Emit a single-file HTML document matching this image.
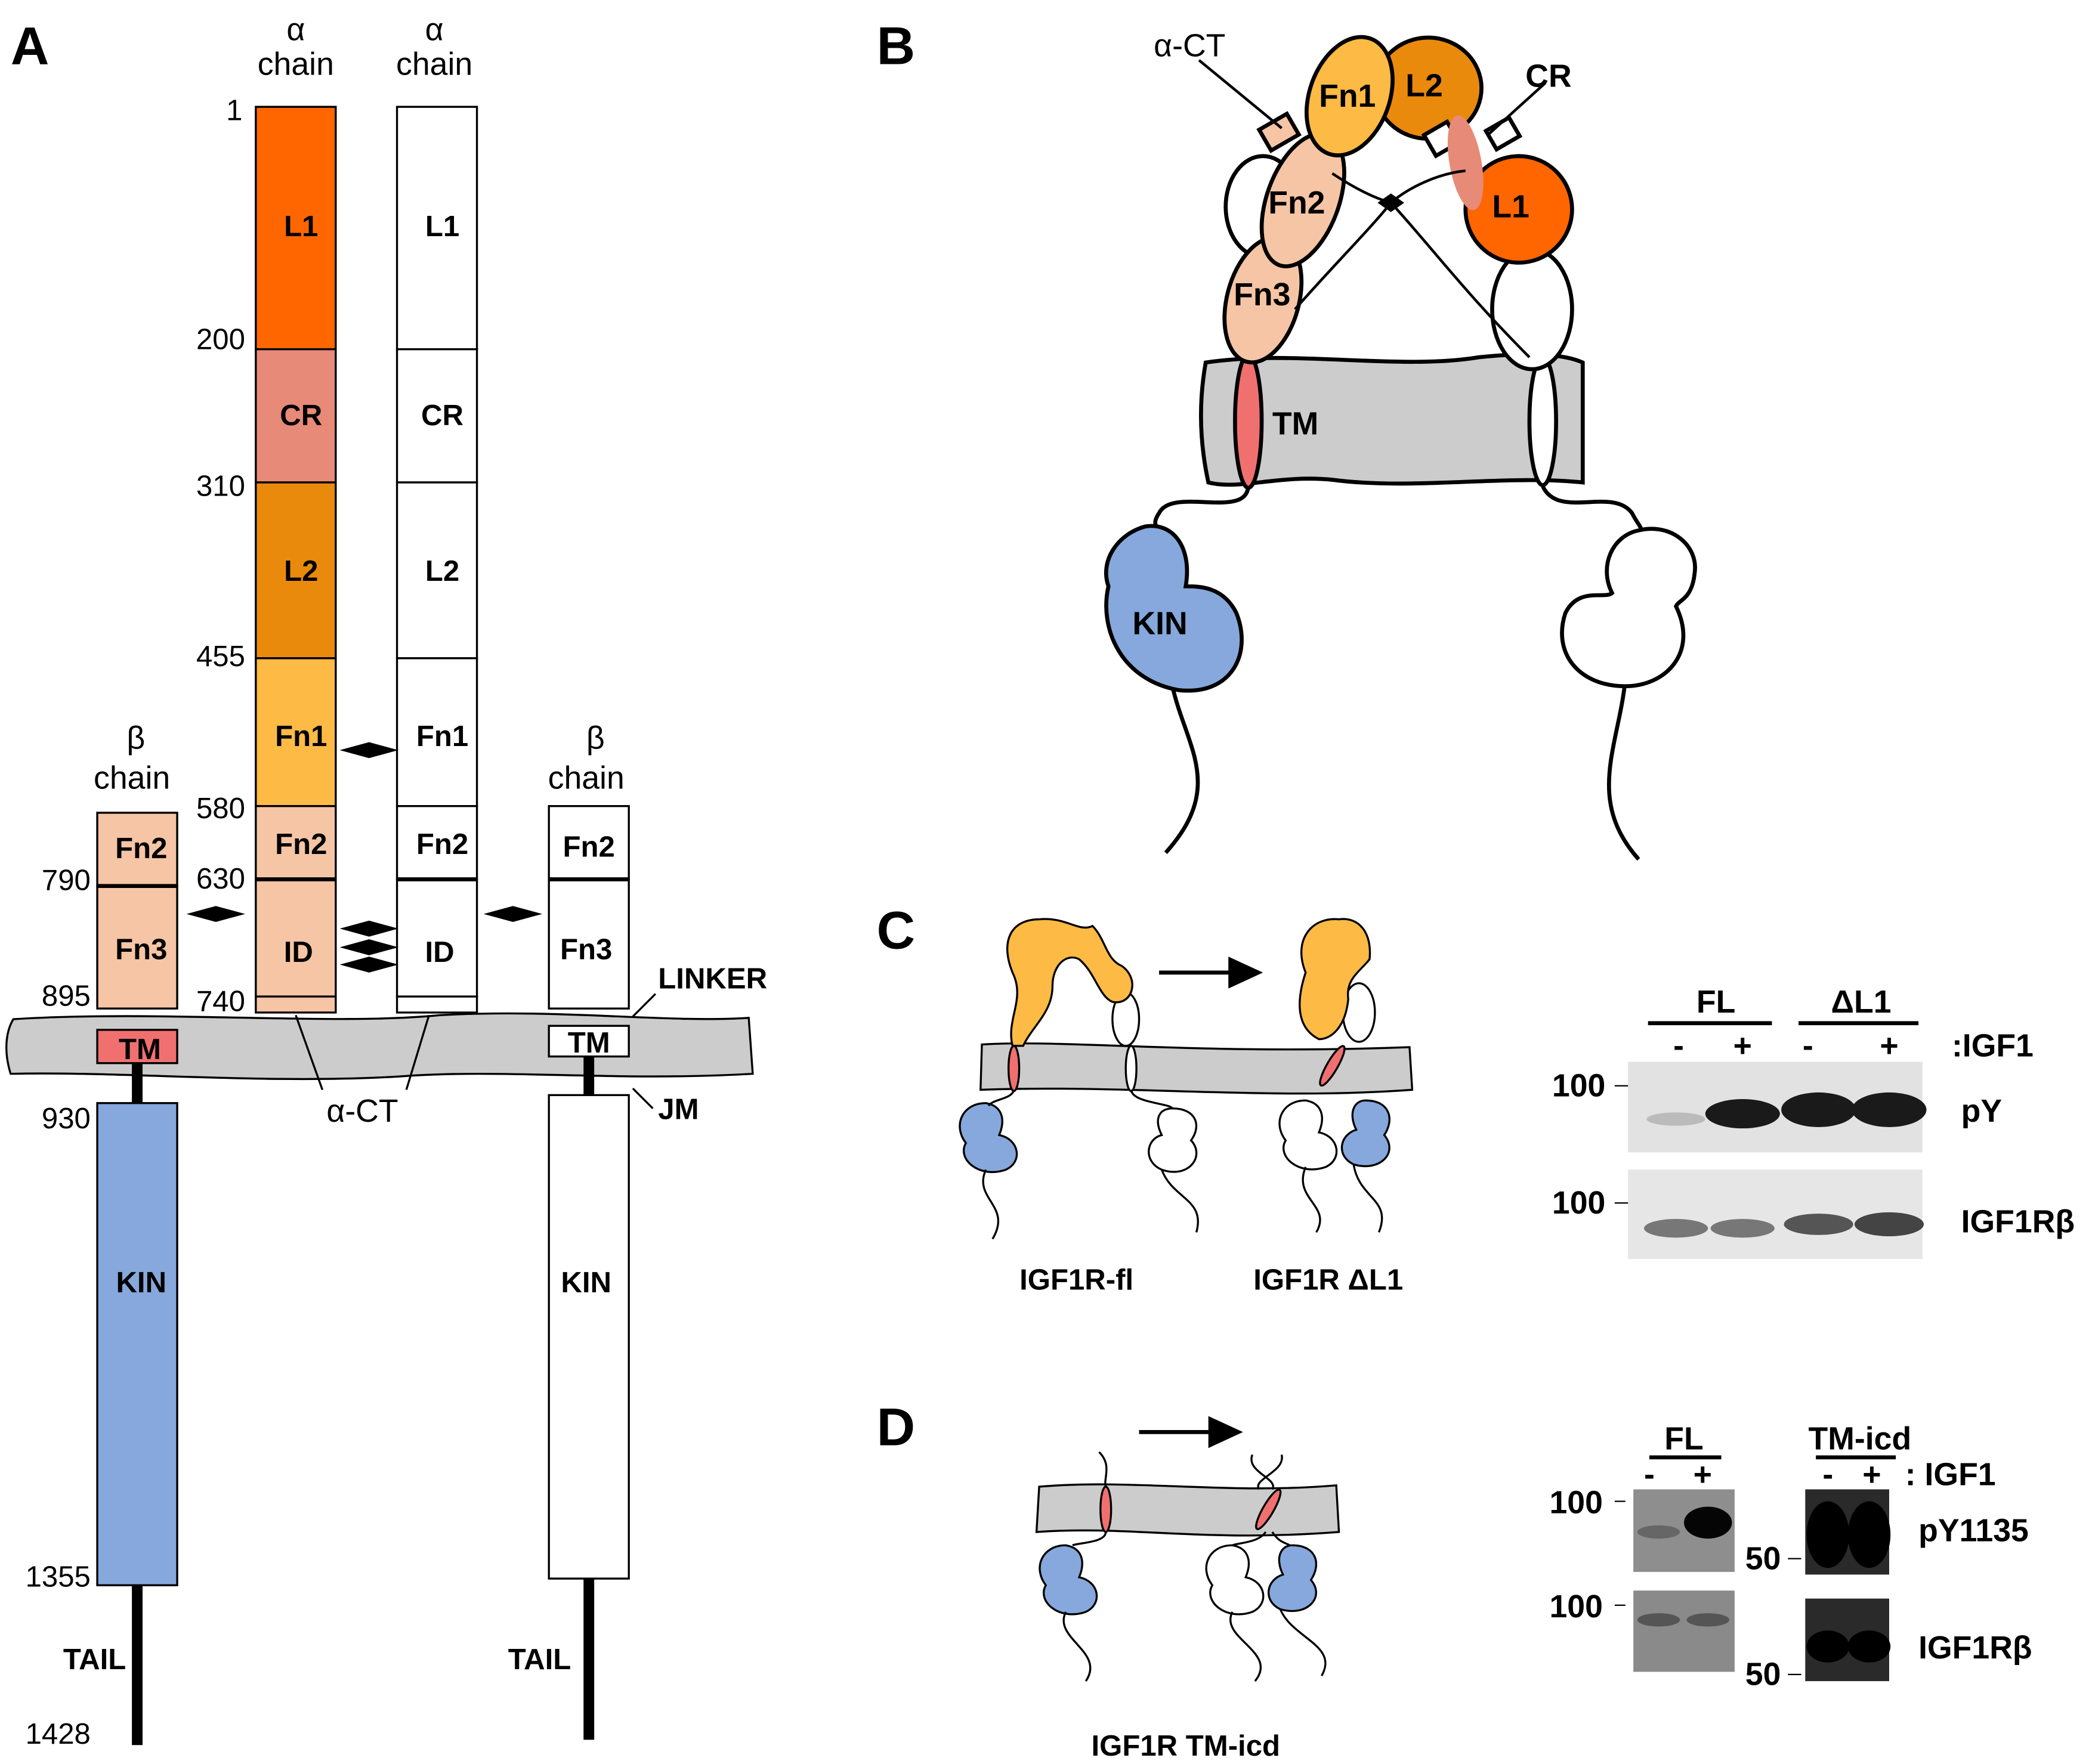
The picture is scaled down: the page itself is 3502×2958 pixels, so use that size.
<!DOCTYPE html>
<html><head><meta charset="utf-8"><style>
html,body{margin:0;padding:0;background:#fff}
svg{display:block}
text{font-family:"Liberation Sans",sans-serif}
.b{font-weight:bold}
</style></head><body>
<svg width="3502" height="2958" viewBox="0 0 1568 1324" xmlns="http://www.w3.org/2000/svg">
<rect width="1568" height="1324" fill="#fff"/>
<defs>
<path id="dm" d="M-22,0 L0,-6 L22,0 L0,6 Z" fill="#000"/>
</defs>
<!-- PANEL A -->
<text x="8" y="48" font-size="40" class="b">A</text>
<g font-size="24" text-anchor="middle">
<text x="222" y="30">α</text><text x="222" y="56">chain</text>
<text x="326" y="30">α</text><text x="326" y="56">chain</text>
<text x="102" y="562">β</text><text x="99" y="592">chain</text>
<text x="447" y="562">β</text><text x="440" y="592">chain</text>
</g>
<!-- membrane -->
<path d="M10,765 C120,758 250,770 330,762 C420,757 500,768 562,764 L565,806 C460,812 380,802 300,808 C200,814 90,804 8,806 C3,790 4,775 10,765Z" fill="#ccc" stroke="#000" stroke-width="1.5"/>
<g stroke="#000" stroke-width="1.5">
<rect x="192" y="80" width="60" height="182" fill="#FF6600"/>
<rect x="192" y="262" width="60" height="100" fill="#E88A78"/>
<rect x="192" y="362" width="60" height="132" fill="#EA8A0C"/>
<rect x="192" y="494" width="60" height="111" fill="#FDBA45"/>
<rect x="192" y="605" width="60" height="55" fill="#F5C5A5"/>
<rect x="192" y="660" width="60" height="88" fill="#F5C5A5"/>
<rect x="192" y="748" width="60" height="12" fill="#F5C5A5"/>
<rect x="298" y="80" width="60" height="182" fill="#fff"/>
<rect x="298" y="262" width="60" height="100" fill="#fff"/>
<rect x="298" y="362" width="60" height="132" fill="#fff"/>
<rect x="298" y="494" width="60" height="111" fill="#fff"/>
<rect x="298" y="605" width="60" height="55" fill="#fff"/>
<rect x="298" y="660" width="60" height="88" fill="#fff"/>
<rect x="298" y="748" width="60" height="12" fill="#fff"/>
<rect x="73" y="610" width="60" height="55" fill="#F5C5A5"/>
<rect x="73" y="665" width="60" height="92" fill="#F5C5A5"/>
<rect x="73" y="773" width="60" height="25" fill="#F07070"/>
<rect x="73" y="828" width="60" height="362" fill="#86A8DC"/>
<rect x="412" y="605" width="60" height="55" fill="#fff"/>
<rect x="412" y="660" width="60" height="97" fill="#fff"/>
<rect x="412" y="770" width="60" height="23" fill="#fff"/>
<rect x="412" y="822" width="60" height="363" fill="#fff"/>
</g>
<g stroke="#000" stroke-width="3"><line x1="192" y1="660" x2="252" y2="660"/><line x1="298" y1="660" x2="358" y2="660"/><line x1="73" y1="665" x2="133" y2="665"/><line x1="412" y1="660" x2="472" y2="660"/></g>
<g stroke="#000" stroke-width="8">
<line x1="103" y1="798" x2="103" y2="828"/><line x1="103" y1="1190" x2="103" y2="1310"/>
<line x1="442" y1="793" x2="442" y2="822"/><line x1="442" y1="1185" x2="442" y2="1306"/>
</g>
<g font-size="22" class="b" text-anchor="middle">
<text x="226" y="177">L1</text><text x="226" y="319">CR</text><text x="226" y="436">L2</text><text x="226" y="560">Fn1</text><text x="226" y="641">Fn2</text><text x="224" y="722">ID</text>
<text x="332" y="177">L1</text><text x="332" y="319">CR</text><text x="332" y="436">L2</text><text x="332" y="560">Fn1</text><text x="332" y="641">Fn2</text><text x="330" y="722">ID</text>
<text x="106" y="644">Fn2</text><text x="106" y="720">Fn3</text><text x="105" y="795">TM</text><text x="106" y="970">KIN</text>
<text x="442" y="643">Fn2</text><text x="440" y="720">Fn3</text><text x="442" y="790">TM</text><text x="440" y="970">KIN</text>
<text x="71" y="1253">TAIL</text><text x="405" y="1253">TAIL</text>
</g>
<g font-size="22" text-anchor="end">
<text x="182" y="90">1</text><text x="184" y="262">200</text><text x="184" y="372">310</text><text x="184" y="500">455</text><text x="184" y="614">580</text><text x="184" y="667">630</text><text x="184" y="759">740</text>
<text x="68" y="668">790</text><text x="68" y="755">895</text><text x="68" y="847">930</text><text x="68" y="1191">1355</text><text x="68" y="1309">1428</text>
</g>
<use href="#dm" x="277" y="563"/><use href="#dm" x="162" y="686"/><use href="#dm" x="385" y="686"/>
<use href="#dm" x="277" y="697"/><use href="#dm" x="277" y="711"/><use href="#dm" x="277" y="724"/>
<g stroke="#000" stroke-width="1.5"><line x1="222" y1="762" x2="242" y2="818"/><line x1="322" y1="762" x2="305" y2="818"/><line x1="475" y1="763" x2="492" y2="746"/><line x1="475" y1="817" x2="490" y2="832"/></g>
<text x="272" y="842" font-size="24" text-anchor="middle">α-CT</text>
<text x="494" y="742" font-size="22" class="b">LINKER</text>
<text x="494" y="840" font-size="22" class="b">JM</text>

<!-- PANEL B -->
<text x="658" y="48" font-size="40" class="b">B</text>
<g stroke="#000" stroke-width="3" fill="none">
<path d="M937,365 C935,390 880,365 870,385 C860,400 880,395 870,400"/>
<path d="M880,515 C890,560 920,590 875,640"/>
<path d="M1158,365 C1170,390 1210,365 1225,385 C1230,395 1235,398 1230,400"/>
<path d="M1220,510 C1215,560 1190,600 1230,645"/>
</g>
<path d="M905,272 C970,262 1050,278 1110,268 C1150,264 1175,266 1188,272 L1188,362 C1130,356 1060,368 1000,360 C960,356 930,368 907,362 C900,330 900,300 905,272Z" fill="#ccc" stroke="#000" stroke-width="3"/>
<ellipse cx="937" cy="316" rx="10" ry="50" fill="#F07070" stroke="#000" stroke-width="3"/>
<ellipse cx="1158" cy="316" rx="10" ry="48" fill="#fff" stroke="#000" stroke-width="3"/>
<text x="955" y="326" font-size="24" class="b">TM</text>
<g stroke="#000" stroke-width="3">
<path d="M860,395 C840,400 825,420 832,440 C825,470 840,510 885,518 C925,522 940,490 928,460 C918,440 900,440 890,440 C895,410 880,392 860,395Z" fill="#86A8DC"/>
<path d="M1230,398 C1255,392 1275,410 1272,430 C1270,450 1260,450 1258,455 C1275,490 1250,515 1220,515 C1185,515 1165,490 1175,460 C1185,440 1205,450 1210,445 C1200,425 1210,402 1230,398Z" fill="#fff"/>
<ellipse cx="948" cy="155" rx="28" ry="38" fill="#fff"/>
<ellipse cx="1150" cy="232" rx="30" ry="45" fill="#fff"/>
<ellipse cx="948" cy="225" rx="27" ry="48" fill="#F5C5A5" transform="rotate(15 948 225)"/>
<ellipse cx="978" cy="150" rx="27" ry="52" fill="#F5C5A5" transform="rotate(20 978 150)"/>
<ellipse cx="1072" cy="66" rx="40" ry="38" fill="#EA8A0C"/>
<ellipse cx="1013" cy="72" rx="30" ry="46" fill="#FDBA45" transform="rotate(20 1013 72)"/>
<circle cx="1140" cy="157" r="40" fill="#FF6600"/>
<rect x="948" y="90" width="24" height="18" fill="#F5C5A5" transform="rotate(-30 960 99)"/>
<rect x="1072" y="95" width="20" height="18" fill="#fff" transform="rotate(-30 1082 104)"/>
<rect x="1118" y="92" width="20" height="16" fill="#fff" transform="rotate(-30 1128 100)"/>
</g>
<ellipse cx="1100" cy="122" rx="12" ry="36" fill="#E88A78" transform="rotate(-10 1100 122)"/>
<g stroke="#000" stroke-width="2" fill="none">
<path d="M972,232 C1000,200 1030,170 1044,152 C1070,180 1100,220 1148,268"/>
<path d="M1000,130 C1015,140 1030,148 1044,152 C1058,140 1080,130 1100,128"/>
<line x1="900" y1="45" x2="962" y2="96"/><line x1="1160" y1="62" x2="1118" y2="100"/>
</g>
<path d="M1034,152 L1044,145 L1054,152 L1044,159Z"/>
<g font-size="24" class="b">
<text x="952" y="160">Fn2</text><text x="926" y="229">Fn3</text><text x="990" y="80">Fn1</text><text x="1055" y="72">L2</text><text x="1120" y="163">L1</text><text x="1145" y="65">CR</text><text x="850" y="476">KIN</text>
</g>
<text x="866" y="42" font-size="24">α-CT</text>

<!-- PANEL C -->
<text x="658" y="712" font-size="40" class="b">C</text>
<g stroke="#000" stroke-width="1.5">
<path d="M737,784 C800,780 900,792 1058,786 L1060,818 C950,826 850,814 736,818Z" fill="#ccc"/>
<ellipse cx="761" cy="802" rx="4" ry="17" fill="#F07070"/>
<ellipse cx="849" cy="802" rx="4" ry="17" fill="#fff"/>
<ellipse cx="1000" cy="800" rx="4" ry="17" fill="#F07070" transform="rotate(30 1000 800)"/>
<ellipse cx="845" cy="765" rx="10" ry="20" fill="#fff"/>
<ellipse cx="1020" cy="760" rx="12" ry="22" fill="#fff"/>
<path d="M760,785 C755,765 770,750 760,730 C750,705 760,690 780,690 C800,688 810,700 820,695 C830,705 830,720 842,725 C856,735 850,755 835,752 C825,748 822,730 810,720 C800,715 790,725 790,740 C790,760 775,770 768,785Z" fill="#FDBA45"/>
<path d="M990,780 C970,770 975,745 980,730 C970,705 985,688 1005,690 C1020,688 1030,700 1028,720 C1020,730 1010,735 1012,750 C1010,770 1000,780 990,780Z" fill="#FDBA45"/>
<path d="M740,828 C722,828 715,845 725,858 C718,870 735,885 755,878 C768,872 765,855 750,852 C755,840 752,830 740,828Z" fill="#86A8DC"/>
<path d="M880,832 C898,832 902,845 894,856 C905,868 892,885 872,878 C858,872 860,855 872,852 C866,840 870,832 880,832Z" fill="#fff"/>
<path d="M980,826 C962,826 955,843 965,856 C958,868 975,883 995,876 C1008,870 1005,853 990,850 C995,838 992,828 980,826Z" fill="#fff"/>
<path d="M1025,826 C1043,826 1047,840 1039,852 C1050,865 1036,880 1016,874 C1003,868 1005,852 1018,848 C1012,836 1016,826 1025,826Z" fill="#86A8DC"/>
</g>
<g stroke="#000" stroke-width="1.5" fill="none">
<path d="M740,878 C730,900 760,905 745,930"/><path d="M872,878 C880,900 905,900 898,925"/>
<path d="M980,876 C970,900 1000,905 988,925"/><path d="M1016,874 C1020,900 1045,900 1035,925"/>
<path d="M761,818 C760,825 745,825 742,830"/><path d="M849,818 C850,828 878,828 880,832"/>
</g>
<line x1="870" y1="730" x2="925" y2="730" stroke="#000" stroke-width="3"/><path d="M922,718 L948,730 L922,742Z"/>
<g font-size="22" class="b" text-anchor="middle"><text x="808" y="968">IGF1R-fl</text><text x="997" y="968">IGF1R  ΔL1</text></g>
<rect x="1222" y="797" width="221" height="68" fill="#e2e2e2"/>
<rect x="1222" y="878" width="221" height="67" fill="#e6e6e6"/>
<g fill="#1a1a1a">
<ellipse cx="1258" cy="840" rx="22" ry="5" fill="#bbb"/>
<ellipse cx="1308" cy="836" rx="28" ry="11"/><ellipse cx="1365" cy="833" rx="28" ry="13"/><ellipse cx="1418" cy="833" rx="28" ry="13"/>
<ellipse cx="1258" cy="922" rx="24" ry="7" fill="#777"/><ellipse cx="1308" cy="922" rx="24" ry="7" fill="#777"/><ellipse cx="1365" cy="919" rx="26" ry="8" fill="#555"/><ellipse cx="1418" cy="919" rx="26" ry="9" fill="#444"/>
</g>
<g stroke="#000" stroke-width="3"><line x1="1237" y1="768" x2="1330" y2="768"/><line x1="1350" y1="768" x2="1440" y2="768"/></g>
<g font-size="24" class="b" text-anchor="middle">
<text x="1288" y="760">FL</text><text x="1397" y="760">ΔL1</text>
<text x="1260" y="793">-</text><text x="1308" y="793">+</text><text x="1357" y="793">-</text><text x="1418" y="793">+</text>
</g>
<g font-size="24" class="b"><text x="1465" y="793">:IGF1</text><text x="1472" y="842">pY</text><text x="1472" y="925">IGF1Rβ</text>
<text x="1165" y="823">100</text><text x="1165" y="911">100</text></g>
<g stroke="#000" stroke-width="1"><line x1="1212" y1="815" x2="1222" y2="815"/><line x1="1212" y1="903" x2="1222" y2="903"/></g>

<!-- PANEL D -->
<text x="658" y="1085" font-size="40" class="b">D</text>
<line x1="855" y1="1075" x2="910" y2="1075" stroke="#000" stroke-width="3"/><path d="M907,1063 L933,1075 L907,1087Z"/>
<g stroke="#000" stroke-width="1.5">
<path d="M780,1116 C850,1110 920,1122 1003,1115 L1005,1150 C900,1158 850,1145 778,1150Z" fill="#ccc"/>
<ellipse cx="830" cy="1133" rx="4" ry="17" fill="#F07070"/>
<ellipse cx="952" cy="1133" rx="4" ry="17" fill="#F07070" transform="rotate(30 952 1133)"/>
<path d="M800,1160 C782,1160 775,1177 785,1190 C778,1202 795,1217 815,1210 C828,1204 825,1187 810,1184 C815,1172 812,1162 800,1160Z" fill="#86A8DC"/>
<path d="M925,1160 C907,1160 900,1177 910,1190 C903,1202 920,1217 940,1210 C953,1204 950,1187 935,1184 C940,1172 937,1162 925,1160Z" fill="#fff"/>
<path d="M970,1160 C988,1160 992,1174 984,1186 C995,1199 981,1214 961,1208 C948,1202 950,1186 963,1182 C957,1170 961,1160 970,1160Z" fill="#86A8DC"/>
</g>
<g stroke="#000" stroke-width="1.5" fill="none">
<path d="M825,1090 C835,1100 828,1110 830,1116"/><path d="M940,1092 C935,1105 960,1110 955,1118"/><path d="M962,1092 C965,1105 940,1110 945,1118"/>
<path d="M830,1150 C830,1158 810,1158 805,1160"/><path d="M950,1150 C945,1158 930,1158 925,1160"/><path d="M955,1150 C960,1158 965,1158 968,1160"/>
<path d="M800,1210 C790,1230 830,1240 815,1262"/><path d="M925,1210 C915,1230 960,1240 942,1262"/><path d="M961,1208 C970,1230 1005,1235 992,1258"/>
</g>
<text x="890" y="1318" font-size="22" class="b" text-anchor="middle">IGF1R TM-icd</text>
<rect x="1226" y="1118" width="76" height="62" fill="#8e8e8e"/>
<rect x="1226" y="1194" width="76" height="61" fill="#8a8a8a"/>
<rect x="1355" y="1118" width="63" height="64" fill="#2a2a2a"/>
<rect x="1355" y="1200" width="63" height="62" fill="#2a2a2a"/>
<ellipse cx="1245" cy="1150" rx="16" ry="5" fill="#666"/>
<ellipse cx="1282" cy="1143" rx="18" ry="12" fill="#050505"/>
<ellipse cx="1245" cy="1216" rx="16" ry="5" fill="#555"/><ellipse cx="1282" cy="1216" rx="16" ry="5" fill="#555"/>
<ellipse cx="1372" cy="1152" rx="16" ry="25" fill="#000"/><ellipse cx="1403" cy="1152" rx="16" ry="25" fill="#000"/>
<ellipse cx="1372" cy="1236" rx="16" ry="12" fill="#000"/><ellipse cx="1403" cy="1236" rx="16" ry="12" fill="#000"/>
<g stroke="#000" stroke-width="3"><line x1="1238" y1="1094" x2="1292" y2="1094"/><line x1="1363" y1="1094" x2="1423" y2="1094"/></g>
<g font-size="24" class="b" text-anchor="middle">
<text x="1264" y="1088">FL</text><text x="1396" y="1088">TM-icd</text>
<text x="1238" y="1115">-</text><text x="1278" y="1115">+</text><text x="1372" y="1115">-</text><text x="1405" y="1115">+</text>
</g>
<g font-size="24" class="b"><text x="1430" y="1115">: IGF1</text><text x="1440" y="1157">pY1135</text><text x="1440" y="1245">IGF1Rβ</text>
<text x="1163" y="1136">100</text><text x="1163" y="1214">100</text><text x="1310" y="1178">50</text><text x="1310" y="1265">50</text></g>
<g stroke="#000" stroke-width="1"><line x1="1212" y1="1127" x2="1220" y2="1127"/><line x1="1212" y1="1205" x2="1220" y2="1205"/><line x1="1342" y1="1170" x2="1352" y2="1170"/><line x1="1342" y1="1257" x2="1352" y2="1257"/></g>
</svg>
</body></html>
